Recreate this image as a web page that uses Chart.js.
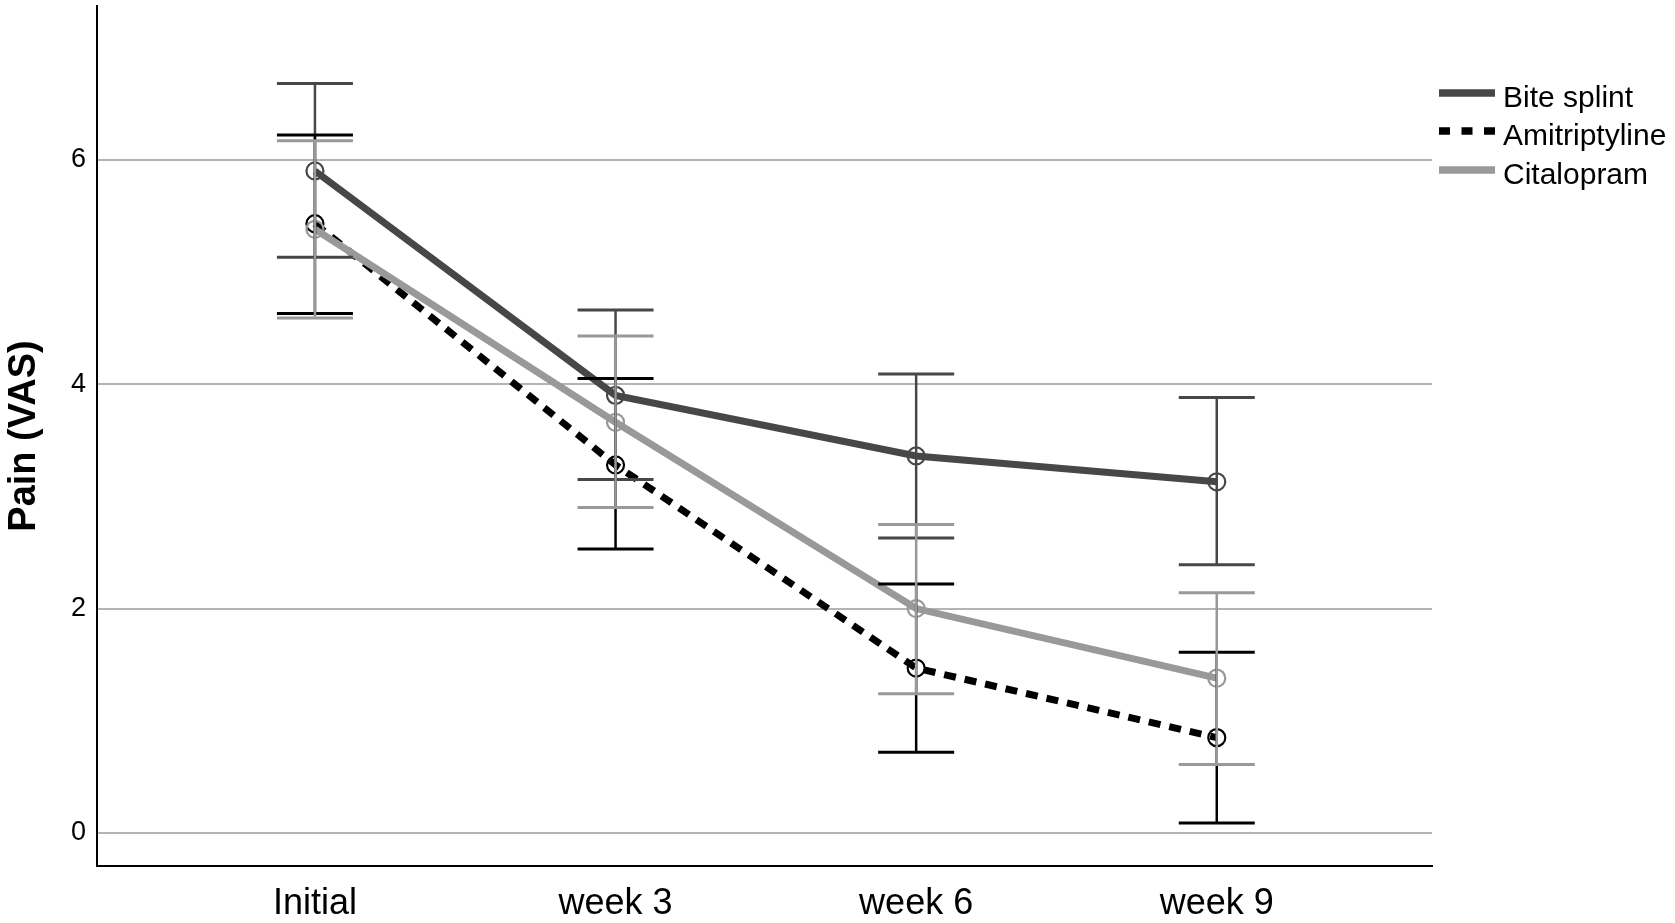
<!DOCTYPE html>
<html>
<head>
<meta charset="utf-8">
<script src="https://cdn.jsdelivr.net/npm/chart.js@4"></script>
<style>
html,body{margin:0;padding:0;background:#fff;}
#c{display:block;}
</style>
</head>
<body>
<canvas id="c" width="1675" height="923"></canvas>
<script>
const categories = ['Initial', 'week 3', 'week 6', 'week 9'];
const yTicks = [0, 2, 4, 6];

const biteMean  = [5.90, 3.90, 3.36, 3.13];
const biteUpper = [6.68, 4.66, 4.09, 3.88];
const biteLower = [5.13, 3.15, 2.63, 2.39];

const amiMean  = [5.43, 3.28, 1.47, 0.85];
const amiUpper = [6.22, 4.05, 2.22, 1.61];
const amiLower = [4.63, 2.53, 0.72, 0.09];

const citMean  = [5.38, 3.66, 2.00, 1.38];
const citUpper = [6.17, 4.43, 2.75, 2.14];
const citLower = [4.59, 2.90, 1.24, 0.61];

const FONT = "'Liberation Sans', Arial, sans-serif";
const DARK = '#47474a';
const BLACK = '#000000';
const GRAY = '#9a9899';

function pts(arr){ return arr.map((v,i)=>({x:i, y:v})); }

const fixTop = {
  id: 'fixTop',
  afterLayout(chart){
    const top = 6;
    chart.chartArea.top = top;
    chart.chartArea.height = chart.chartArea.bottom - top;
    const ys = chart.scales.y;
    ys.top = top;
    ys.height = ys.bottom - top;
    ys.configure();
  }
};

const errorBars = {
  id: 'errorBars',
  afterDatasetsDraw(chart){
    const ctx = chart.ctx;
    const xs = chart.scales.x, ys = chart.scales.y;
    [0, 1, 2].forEach(di=>{
      const ds = chart.data.datasets[di];
      ctx.save();
      ctx.strokeStyle = ds.borderColor;
      ctx.setLineDash([]);
      ds.errUpper.forEach((u,i)=>{
        const l = ds.errLower[i];
        const px = xs.getPixelForValue(i);
        const pu = ys.getPixelForValue(u);
        const pl = ys.getPixelForValue(l);
        ctx.lineWidth = 2.5;
        ctx.beginPath(); ctx.moveTo(px, pu); ctx.lineTo(px, pl); ctx.stroke();
        ctx.lineWidth = 3;
        ctx.beginPath();
        ctx.moveTo(px-38, pu); ctx.lineTo(px+38, pu);
        ctx.moveTo(px-38, pl); ctx.lineTo(px+38, pl);
        ctx.stroke();
      });
      ctx.restore();
    });
  }
};

const customLegend = {
  id: 'customLegend',
  afterDraw(chart){
    const ctx = chart.ctx;
    const rows = [93, 131, 170];
    ctx.save();
    [0, 1, 2].forEach((di, k)=>{
      const ds = chart.data.datasets[di];
      const y = rows[k];
      ctx.strokeStyle = ds.borderColor;
      ctx.lineWidth = 7.5;
      ctx.lineCap = 'butt';
      ctx.setLineDash(ds.legendDash || []);
      ctx.beginPath(); ctx.moveTo(1439, y); ctx.lineTo(1495, y); ctx.stroke();
      ctx.setLineDash([]);
      ctx.fillStyle = '#000';
      ctx.font = '30px ' + FONT;
      ctx.textAlign = 'left';
      ctx.textBaseline = 'alphabetic';
      ctx.fillText(ds.label, 1503, y + 13.5);
    });
    ctx.restore();
  }
};

new Chart(document.getElementById('c'), {
  type: 'line',
  data: {
    datasets: [
      {
        label: 'Bite splint', data: pts(biteMean), errUpper: biteUpper, errLower: biteLower,
        borderColor: DARK, borderWidth: 7, order: 0,
        pointRadius: 8.5, pointBorderWidth: 2.2, pointBorderColor: DARK, pointBackgroundColor: 'rgba(0,0,0,0)',
        tension: 0, fill: false
      },
      {
        label: 'Amitriptyline', data: pts(amiMean), errUpper: amiUpper, errLower: amiLower,
        borderColor: BLACK, borderWidth: 7, borderDash: [12, 9], legendDash: [11, 11.5], order: 2,
        pointRadius: 8.5, pointBorderWidth: 2.2, pointBorderColor: BLACK, pointBackgroundColor: 'rgba(0,0,0,0)',
        tension: 0, fill: false
      },
      {
        label: 'Citalopram', data: pts(citMean), errUpper: citUpper, errLower: citLower,
        borderColor: GRAY, borderWidth: 7, order: 1,
        pointRadius: 8.5, pointBorderWidth: 2.2, pointBorderColor: GRAY, pointBackgroundColor: 'rgba(0,0,0,0)',
        tension: 0, fill: false
      }
    ]
  },
  options: {
    responsive: false,
    devicePixelRatio: 1,
    animation: false,
    layout: { padding: { top: 6, right: 243, left: 0, bottom: 0 } },
    plugins: { legend: { display: false }, tooltip: { enabled: false } },
    scales: {
      x: {
        type: 'linear', min: -0.725, max: 3.716,
        grid: { display: false, drawTicks: false },
        border: { display: true, color: '#000', width: 2 },
        afterBuildTicks: s => { s.ticks = categories.map((c,i)=>({value:i})); },
        afterFit: s => { s.height = 57; s.paddingLeft = 0; s.paddingRight = 0; },
        ticks: {
          autoSkip: false, maxRotation: 0, padding: 16, color: '#000',
          font: { family: FONT, size: 36 },
          callback: v => categories[v] !== undefined ? categories[v] : ''
        }
      },
      y: {
        min: -0.294, max: 7.37,
        grid: { color: '#b4b4b4', lineWidth: 2, drawTicks: false },
        border: { display: true, color: '#000', width: 2 },
        afterBuildTicks: s => { s.ticks = yTicks.map(v=>({value:v})); },
        afterFit: s => { s.width = 97; s.paddingTop = 0; s.paddingBottom = 0; },
        ticks: { padding: 11, color: '#000', font: { family: FONT, size: 27 } },
        title: { display: true, text: 'Pain (VAS)', color: '#000', padding: { top: 2, bottom: 0 },
                 font: { family: FONT, size: 38, weight: 'bold' } }
      }
    }
  },
  plugins: [fixTop, errorBars, customLegend]
});
</script>
</body>
</html>
